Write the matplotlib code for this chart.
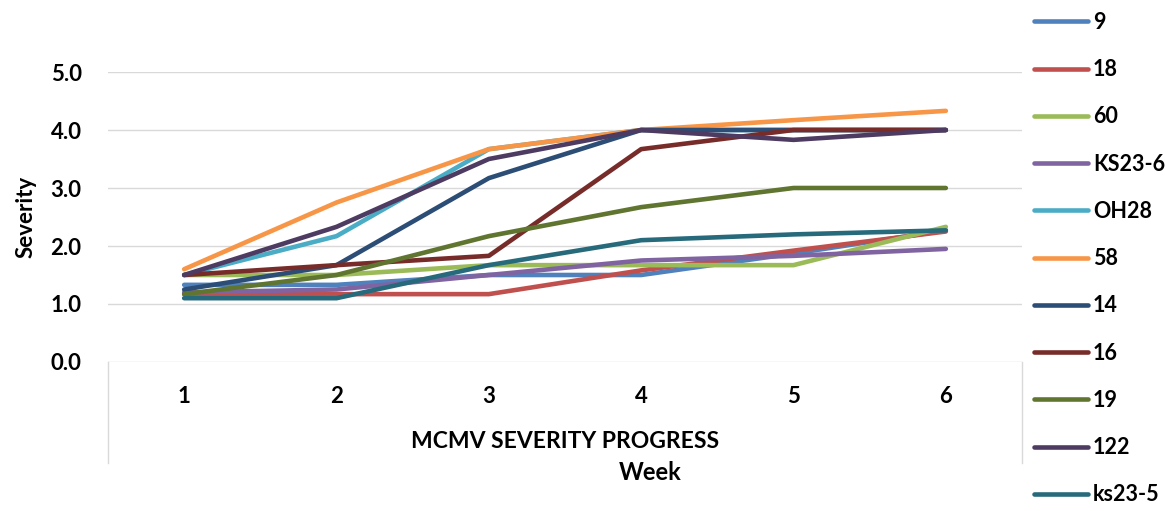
import matplotlib
matplotlib.use('Agg')
import matplotlib.pyplot as plt
from matplotlib.lines import Line2D

# week numbers on the category axis
weeks = [1, 2, 3, 4, 5, 6]

# severity score per line / isolate
s9 = [1.33, 1.33, 1.5, 1.5, 1.87, 2.27]
s18 = [1.17, 1.17, 1.17, 1.58, 1.92, 2.25]
s60 = [1.5, 1.5, 1.67, 1.67, 1.67, 2.33]
ks23_6 = [1.2, 1.25, 1.5, 1.75, 1.83, 1.95]
oh28 = [1.5, 2.17, 3.67, 4.0, 4.0, 4.0]
s58 = [1.6, 2.75, 3.67, 4.0, 4.17, 4.33]
s14 = [1.25, 1.67, 3.17, 4.0, 4.0, 4.0]
s16 = [1.5, 1.67, 1.83, 3.67, 4.0, 4.0]
s19 = [1.17, 1.5, 2.17, 2.67, 3.0, 3.0]
s122 = [1.5, 2.33, 3.5, 4.0, 3.83, 4.0]
ks23_5 = [1.1, 1.1, 1.67, 2.1, 2.2, 2.27]

labels = ['9', '18', '60', 'KS23-6', 'OH28', '58', '14', '16', '19', '122', 'ks23-5']
series = [s9, s18, s60, ks23_6, oh28, s58, s14, s16, s19, s122, ks23_5]
colors = ['#4F81BD', '#C0504D', '#9BBB59', '#8064A2', '#4BACC6', '#F79646',
          '#2C4D75', '#772C2A', '#5F7530', '#4D3B62', '#276A7C']

plt.rcParams['font.family'] = ['Lato', 'DejaVu Sans']
plt.rcParams['font.weight'] = 'bold'

W, H = 1165, 511
fig = plt.figure(figsize=(W / 100, H / 100), dpi=100)
# plot area in pixel terms: x 108..1022, y 72..362
ax = fig.add_axes([108 / W, 1 - 362 / H, (1022 - 108) / W, (362 - 72) / H])

for vals, lab, col in zip(series, labels, colors):
    ax.plot(weeks, vals, color=col, lw=3.3, label=lab, solid_capstyle='round')

ax.set_xlim(0.5, 6.5)
ax.set_ylim(0, 5)
ax.set_yticks([0, 1, 2, 3, 4, 5])
ax.set_yticklabels(['%.1f' % v for v in [0, 1, 2, 3, 4, 5]])
ax.set_xticks(weeks)
ax.tick_params(axis='both', length=0, labelsize=16, colors='black')
ax.tick_params(axis='y', pad=19)
ax.tick_params(axis='x', pad=17)
ax.grid(axis='y', color='#d9d9d9', lw=1)
ax.set_axisbelow(True)
for sp in ax.spines.values():
    sp.set_visible(False)

# light frame below the axis (category label area)
for xp in (108, 1022):
    fig.add_artist(Line2D([xp / W, xp / W], [1 - 362 / H, 1 - 463 / H],
                          color='#d9d9d9', lw=1))

ax.set_ylabel('Severity', fontsize=16, fontweight='bold', labelpad=10)
fig.text(565 / W, 1 - 442 / H, 'MCMV SEVERITY PROGRESS', fontsize=16.5,
         fontweight='bold', ha='center', va='center')
fig.text(650 / W, 1 - 472 / H, 'Week', fontsize=17, fontweight='bold',
         ha='center', va='center')

fig.legend(loc='upper left', bbox_to_anchor=(1022 / W, 1.0), frameon=False,
           fontsize=15.5, handlelength=2.5, labelspacing=1.22, handletextpad=0.25,
           borderaxespad=0.15)

fig.savefig('out.png', dpi=100)
